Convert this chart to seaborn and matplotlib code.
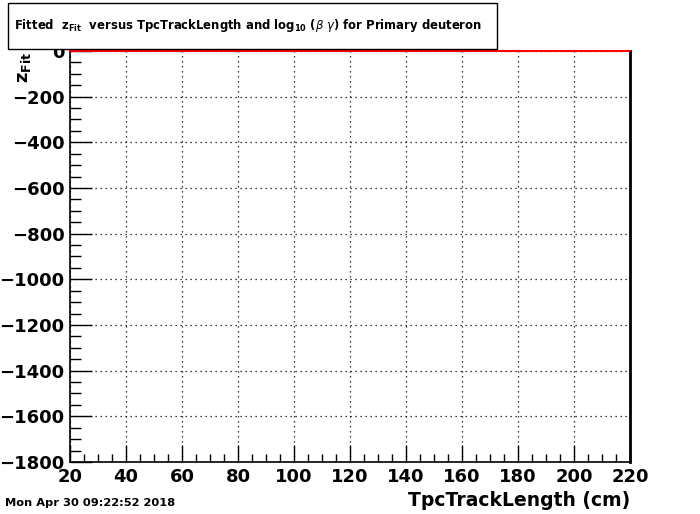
import matplotlib
matplotlib.use('Agg')
import matplotlib.pyplot as plt
from matplotlib.ticker import MultipleLocator
import seaborn as sns

# fitted curve (flat at zero over the whole range)
track_length = [20, 220]
z_fit = [0, 0]

x_range = (20, 220)
y_range = (-1800, 0)
y_ticks = [-1800, -1600, -1400, -1200, -1000, -800, -600, -400, -200, 0]

sns.set_style('white')
plt.rcParams['font.family'] = ['DejaVu Sans']
plt.rcParams['mathtext.fontset'] = 'dejavusans'

fig = plt.figure(figsize=(7, 5.14), dpi=100)
ax = fig.add_axes([0.1, 0.1012, 0.8, 0.7996])

sns.lineplot(x=track_length, y=z_fit, color='red', linewidth=1.5, ax=ax, clip_on=False, zorder=5)

ax.xaxis.set_major_locator(MultipleLocator(20))
ax.xaxis.set_minor_locator(MultipleLocator(5))
ax.set_yticks(y_ticks)
ax.set_yticklabels([f'\u2212{abs(v)}' if v < 0 else f'{v}' for v in y_ticks])
ax.yaxis.set_minor_locator(MultipleLocator(50))
ax.set_xlim(*x_range)
ax.set_ylim(*y_range)

ax.grid(True, which='major', color='black', linestyle=(0, (1, 3)), linewidth=0.9)
ax.tick_params(which='both', bottom=True, left=True, top=False, right=False)
ax.tick_params(which='major', direction='in', length=12, width=1, colors='black',
               labelsize=13, pad=4)
ax.tick_params(which='minor', direction='in', length=6, width=1, colors='black')
ax.tick_params(axis='y', which='major', length=16)
ax.tick_params(axis='y', which='minor', length=8)
for lab in ax.get_xticklabels() + ax.get_yticklabels():
    lab.set_fontweight('bold')
    lab.set_color('black')

for side in ['left', 'bottom']:
    ax.spines[side].set_color('black')
    ax.spines[side].set_linewidth(1.2)
ax.spines['right'].set_color('black')
ax.spines['right'].set_linewidth(2)
ax.spines['top'].set_visible(False)

ax.set_xlabel('TpcTrackLength (cm)', fontsize=13.5, fontweight='bold', color='black')
ax.xaxis.set_label_coords(1.0, -0.07)
ax.xaxis.label.set_horizontalalignment('right')

# y title placed by hand (ROOT puts it at the top of the axis)
fig.text(15 / 700, 1 - 52 / 514, r'$\mathbf{z}_{\mathbf{Fit}}$', fontsize=13,
         rotation=90, ha='left', va='top', color='black')

title = (r'Fitted  $\mathbf{z}_{\mathbf{Fit}}$  versus TpcTrackLength and '
         r'$\mathbf{log}_{\mathbf{10}}$ ($\beta\ \gamma$) for Primary deuteron')
fig.patches.append(plt.Rectangle((8 / 700, 1 - 49 / 514), 489 / 700, 46 / 514,
                                 transform=fig.transFigure, facecolor='white',
                                 edgecolor='black', linewidth=1, zorder=10))
fig.text(14 / 700, 1 - 26 / 514, title, fontsize=8.4, fontweight='bold',
         ha='left', va='center', zorder=11, color='black')

fig.text(5 / 700, 1 - 503 / 514, 'Mon Apr 30 09:22:52 2018', fontsize=8.2,
         fontweight='bold', ha='left', va='center', color='black')

fig.savefig('out.png', dpi=100)
